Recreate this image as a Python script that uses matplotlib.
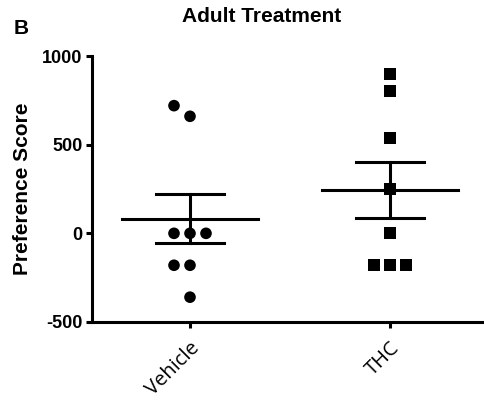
import numpy as np
import matplotlib
matplotlib.use("Agg")
import matplotlib.pyplot as plt

categories = ["Vehicle", "THC"]
vehicle = [720, 660, 0, 0, 0, -180, -180, -360]
vehicle_offsets = [-0.08, 0.0, -0.08, 0.0, 0.08, -0.08, 0.0, 0.0]
thc = [900, 800, 540, 250, 0, -180, -180, -180]
thc_offsets = [0.0, 0.0, 0.0, 0.0, 0.0, -0.08, 0.0, 0.08]
yticks = [-500, 0, 500, 1000]

plt.rcParams['font.family'] = ['Liberation Sans', 'DejaVu Sans']

fig = plt.figure(figsize=(4.84, 4.04), dpi=100)
ax = fig.add_axes([92/484, 1-322/404, 1-92/484, (322-56)/404])

groups = [(vehicle, vehicle_offsets, 'o'), (thc, thc_offsets, 's')]
for i, (vals, offs, mk) in enumerate(groups):
    xs = [i + o for o in offs]
    ax.scatter(xs, vals, marker=mk, s=70 if mk == 'o' else 75, color='black',
               edgecolors='none', zorder=3)
    v = np.array(vals, dtype=float)
    m = v.mean()
    sem = v.std(ddof=1) / np.sqrt(len(v))
    ax.plot([i - 0.34, i + 0.34], [m, m], color='black', lw=2.2, zorder=4)
    ax.plot([i, i], [m - sem, m + sem], color='black', lw=2.2, zorder=4)
    for y in (m - sem, m + sem):
        ax.plot([i - 0.17, i + 0.17], [y, y], color='black', lw=2.2, zorder=4)

ax.set_xlim(-0.49, 1.47)
ax.set_ylim(-500, 1000)
ax.set_yticks(yticks)
ax.set_yticklabels([str(t) for t in yticks], fontsize=13, fontweight='bold')
ax.set_xticks([0, 1])
ax.set_xticklabels(categories, rotation=45, ha='right', rotation_mode='anchor',
                   fontsize=14.5, family=['Open Sans', 'DejaVu Sans'])
ax.spines['top'].set_visible(False)
ax.spines['right'].set_visible(False)
for s in ('left', 'bottom'):
    ax.spines[s].set_linewidth(2.2)
ax.tick_params(axis='both', direction='out', length=4.5, width=2.2, pad=2.5)
ax.tick_params(axis='x', pad=7)
ax.set_ylabel("Preference Score", fontsize=15, fontweight='bold', labelpad=7)

fig.text(262/484, 1-16/404, "Adult Treatment", ha='center', va='center',
         fontsize=15, fontweight='bold')
fig.text(14/484, 1-28/404, "B", ha='left', va='center', fontsize=15, fontweight='bold')

fig.savefig("out.png", dpi=100)
